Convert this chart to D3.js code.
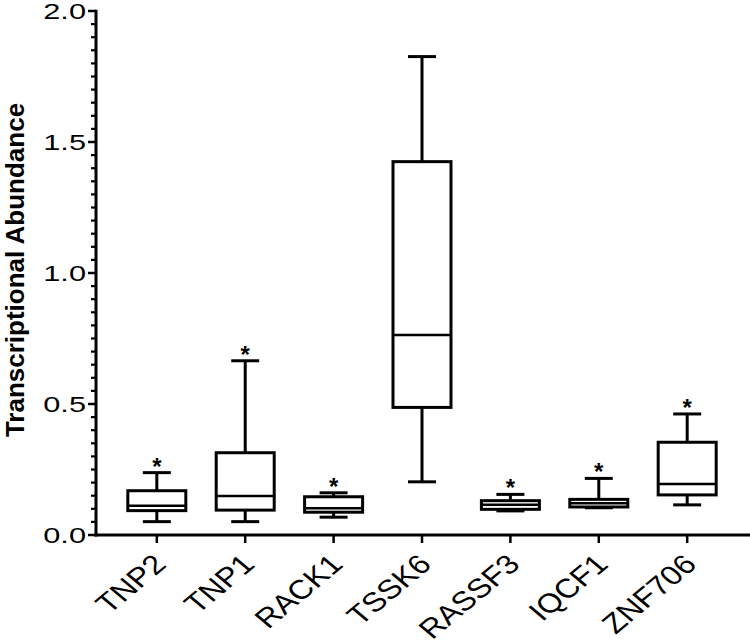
<!DOCTYPE html>
<html>
<head>
<meta charset="utf-8">
<script src="https://cdn.jsdelivr.net/npm/d3@7"></script>
<style>
  html, body { margin: 0; padding: 0; background: #fff; }
  svg { display: block; }
  text { font-family: "Liberation Sans", Arial, sans-serif; fill: #000; }
</style>
</head>
<body>
<svg id="chart" width="750" height="643"></svg>
<script>
// ---- data ----
const categories   = ["TNP2", "TNP1", "RACK1", "TSSK6", "RASSF3", "IQCF1", "ZNF706"];
const whiskerLow   = [0.051, 0.051, 0.068, 0.203, 0.092, 0.104, 0.115];
const quartile1    = [0.093, 0.095, 0.087, 0.487, 0.098, 0.107, 0.153];
const medians      = [0.112, 0.149, 0.102, 0.763, 0.115, 0.121, 0.195];
const quartile3    = [0.169, 0.314, 0.146, 1.425, 0.131, 0.136, 0.354];
const whiskerHigh  = [0.238, 0.665, 0.161, 1.826, 0.155, 0.216, 0.462];
const significant  = [true, true, true, false, true, true, true];
const yTickValues  = [0, 0.5, 1.0, 1.5, 2.0];
const yTitle = "Transcriptional Abundance";

// ---- layout ----
const svg = d3.select("#chart");
const axisX = 96, axisY = 535, topY = 11, rightX = 750;

const y = d3.scaleLinear().domain([0, 2]).range([axisY, topY]);
const x = d3.scalePoint().domain(categories).range([axisX, 748]).padding(0.688);
const boxW = 58, capW = 28, sw = 3;

const rows = categories.map((c, i) => ({
  c, lo: whiskerLow[i], q1: quartile1[i], med: medians[i], q3: quartile3[i], hi: whiskerHigh[i], sig: significant[i]
}));

// ---- y axis ----
const yAxisG = svg.append("g");
const minorTicks = d3.range(0, 2.0001, 0.05).filter(v => Math.abs(v * 2 - Math.round(v * 2)) > 1e-6);
yAxisG.selectAll("line.minor").data(minorTicks).join("line")
  .attr("x1", axisX - 5).attr("x2", axisX)
  .attr("y1", d => y(d)).attr("y2", d => y(d))
  .attr("stroke", "#000").attr("stroke-width", 2.2);
yAxisG.selectAll("line.major").data(yTickValues).join("line")
  .attr("x1", axisX - 8).attr("x2", axisX)
  .attr("y1", d => y(d)).attr("y2", d => y(d))
  .attr("stroke", "#000").attr("stroke-width", 2.5);
yAxisG.append("line")
  .attr("x1", axisX).attr("x2", axisX)
  .attr("y1", y(2) - 1.2).attr("y2", axisY + 1.5)
  .attr("stroke", "#000").attr("stroke-width", sw);
yAxisG.selectAll("text").data(yTickValues).join("text")
  .attr("transform", d => `translate(86,${y(d)}) scale(1.43,1)`)
  .attr("text-anchor", "end").attr("dy", "0.36em")
  .style("font-size", "21.5px")
  .text(d => d3.format(".1f")(d));

svg.append("text")
  .attr("transform", "translate(24,270) rotate(-90)")
  .attr("text-anchor", "middle")
  .style("font-size", "26px").style("font-weight", "bold")
  .text(yTitle);

// ---- x axis ----
const xAxisG = svg.append("g");
xAxisG.append("line")
  .attr("x1", axisX - 1.5).attr("x2", rightX)
  .attr("y1", axisY).attr("y2", axisY)
  .attr("stroke", "#000").attr("stroke-width", sw);
xAxisG.selectAll("line.tick").data(categories).join("line")
  .attr("x1", d => x(d)).attr("x2", d => x(d))
  .attr("y1", axisY).attr("y2", axisY + 8)
  .attr("stroke", "#000").attr("stroke-width", 2.5);
xAxisG.selectAll("text").data(categories).join("text")
  .attr("transform", d => `translate(${x(d) + 11},566) scale(1.2,1) rotate(-45)`)
  .attr("text-anchor", "end")
  .style("font-size", "27px")
  .text(d => d);

// ---- boxes ----
const g = svg.append("g").attr("stroke", "#000").attr("fill", "none").attr("stroke-width", sw);
const bx = g.selectAll("g.box").data(rows).join("g");
// whiskers
bx.append("line").attr("x1", d => x(d.c)).attr("x2", d => x(d.c))
  .attr("y1", d => y(d.q3)).attr("y2", d => y(d.hi));
bx.append("line").attr("x1", d => x(d.c)).attr("x2", d => x(d.c))
  .attr("y1", d => y(d.q1)).attr("y2", d => y(d.lo));
// caps
bx.append("line").attr("x1", d => x(d.c) - capW / 2).attr("x2", d => x(d.c) + capW / 2)
  .attr("y1", d => y(d.hi)).attr("y2", d => y(d.hi));
bx.append("line").attr("x1", d => x(d.c) - capW / 2).attr("x2", d => x(d.c) + capW / 2)
  .attr("y1", d => y(d.lo)).attr("y2", d => y(d.lo));
// box
bx.append("rect")
  .attr("x", d => x(d.c) - boxW / 2).attr("width", boxW)
  .attr("y", d => y(d.q3)).attr("height", d => y(d.q1) - y(d.q3))
  .attr("fill", "#fff");
// median
bx.append("line").attr("x1", d => x(d.c) - boxW / 2).attr("x2", d => x(d.c) + boxW / 2)
  .attr("y1", d => y(d.med)).attr("y2", d => y(d.med)).attr("stroke-width", 2.5);

// ---- significance asterisks ----
svg.selectAll("text.star").data(rows.filter(d => d.sig)).join("text")
  .attr("class", "star")
  .attr("x", d => x(d.c)).attr("y", d => y(d.hi) + 2)
  .attr("text-anchor", "middle")
  .style("font-size", "24px").style("font-weight", "bold")
  .text("*");
</script>
</body>
</html>
